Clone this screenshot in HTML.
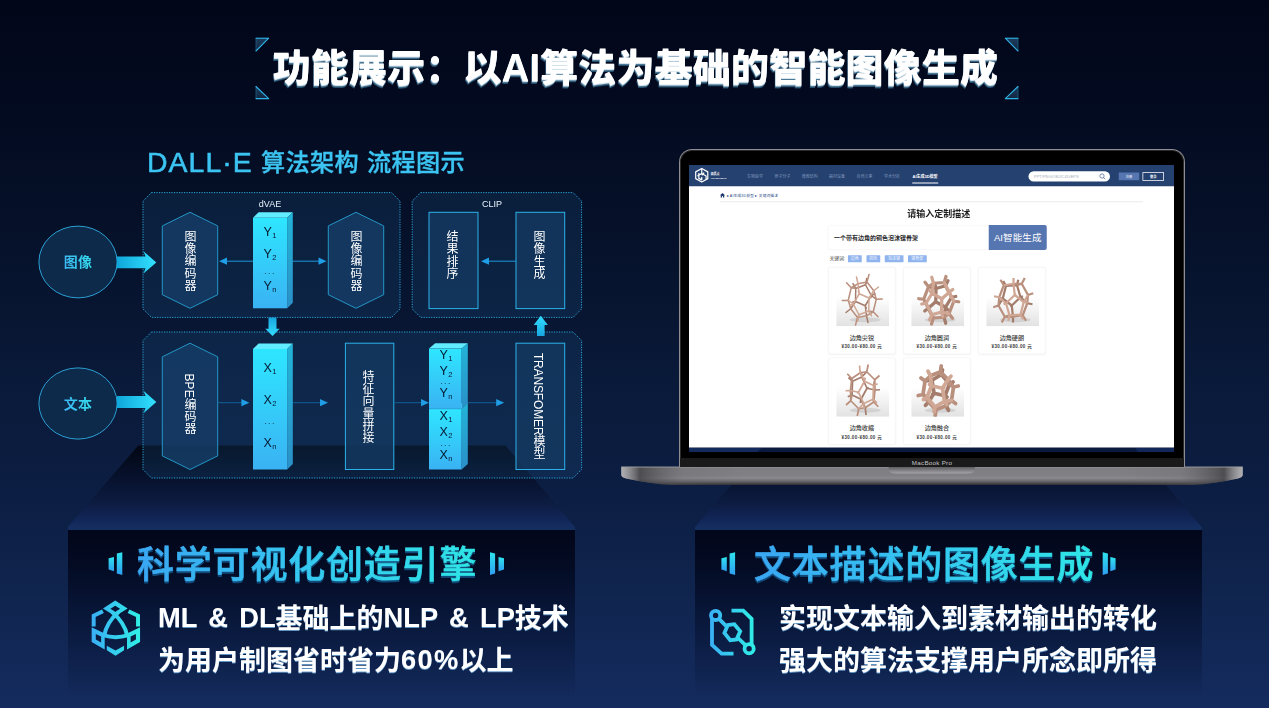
<!DOCTYPE html>
<html lang="zh-CN">
<head>
<meta charset="utf-8">
<title>功能展示：以AI算法为基础的智能图像生成</title>
<style>
*{margin:0;padding:0;box-sizing:border-box}
html,body{width:1269px;height:708px;overflow:hidden}
body{position:relative;font-family:"Liberation Sans","Noto Sans CJK SC",sans-serif;background:linear-gradient(180deg,#020619 0%,#030a1f 14%,#06122b 35%,#0a1a3a 55%,#0c1e43 70%,#10254f 85%,#142b5e 100%);color:#fff}
.abs{position:absolute}
.title,.sub,.h2,.body,.vt,.lab,.yx,.dots,.el{will-change:transform}
#shapes{position:absolute;left:0;top:0;width:1269px;height:708px}
.title{position:absolute;left:0;top:40px;width:1269px;text-align:center;font-family:"Liberation Sans","Noto Sans CJK SC",sans-serif;font-weight:900;font-size:38px;line-height:56px;letter-spacing:0.18px;color:#fff;white-space:nowrap;text-shadow:0 1px 0 #d4e2ec,-0.5px 1.8px 0 #4d7a98,-0.6px 2.6px 0 #264d69;padding-left:2px}
.sub{position:absolute;top:145px;-webkit-text-stroke:0.35px #3cc4f2;font-size:24.2px;line-height:36px;font-weight:500;color:#3cc4f2;white-space:nowrap;letter-spacing:0.35px}
.sub.lat{font-size:28.4px;letter-spacing:1.05px;-webkit-text-stroke:0.55px #3cc4f2;top:143.6px}
.box{position:absolute;top:529.5px;height:166px;background:linear-gradient(180deg,#02061a 0%,#030a21 18%,#081638 50%,rgba(14,32,74,.8) 80%,rgba(19,41,92,0) 100%)}
.box:before{content:"";position:absolute;left:0;right:0;top:-2.6px;height:2.6px;background:#152e60}
.h2{position:absolute;font-size:37px;line-height:50px;font-weight:500;white-space:nowrap;letter-spacing:0.8px;background:linear-gradient(90deg,#3aa6f2 0%,#35c8f0 50%,#2fe6e6 100%);-webkit-background-clip:text;background-clip:text;color:transparent;-webkit-text-stroke:0.7px transparent;filter:drop-shadow(0 2px 0.6px rgba(22,95,150,.75))}
.body{position:absolute;font-size:27px;line-height:42px;font-weight:700;color:#fff;white-space:nowrap;text-shadow:0 1px 0.6px rgba(120,185,238,.75)}
.body .l{font-size:27.3px;line-height:30px;position:relative;top:-0.8px}

.vt{position:absolute;writing-mode:vertical-rl;text-orientation:mixed;font-size:12px;line-height:14px;width:14px;color:#fff;white-space:nowrap;letter-spacing:0.2px;transform:translate(-50%,-50%)}
.lab{position:absolute;font-size:9px;line-height:10px;color:#e8f2fa;transform:translate(-50%,-50%);white-space:nowrap}
.el{position:absolute;font-size:14px;line-height:16px;font-weight:700;transform:translate(-50%,-50%);white-space:nowrap;letter-spacing:0.3px;background:linear-gradient(90deg,#3cb8f4,#34e0ee);-webkit-background-clip:text;background-clip:text;color:transparent}
.yx{position:absolute;font-size:12.5px;line-height:14px;color:#071a33;transform:translate(-50%,-50%);white-space:nowrap}
.yx sub{font-size:7.6px;vertical-align:baseline;position:relative;top:1.5px;margin-left:0.3px}
.dots{position:absolute;font-size:7px;line-height:8px;color:#071a33;transform:translate(-50%,-50%);letter-spacing:1.5px;white-space:nowrap}

.lid{position:absolute;left:678.9px;top:148.8px;width:506.2px;height:318px;background:#000;border-radius:13px 13px 0 0;border:1.3px solid #8e8e92;border-bottom:none;box-shadow:inset 0 0 0 1px #2a2a2c}
.chin{position:absolute;left:680.3px;top:458.3px;width:503.4px;height:8.5px;background:#1a1a1b}
.mbp{position:absolute;left:931.5px;top:462.6px;transform:translate(-50%,-50%) scale(.25);font-size:25px;line-height:28px;color:#c4c4c8;white-space:nowrap;letter-spacing:1px}
.screenwrap{position:absolute;left:688.8px;top:165.2px;width:485.3px;height:286.8px;overflow:hidden;background:#0a1a3e}
.screen{position:absolute;left:0;top:0;width:1942px;height:1130px;background:#fff;transform:scale(.25);transform-origin:0 0;color:#222;font-family:"Liberation Sans","Noto Sans CJK SC",sans-serif}
.screen div{position:absolute;white-space:nowrap}
.nav{left:0;top:0;width:1942px;height:85px;background:#24416f}
.ni{top:28px;font-size:16px;line-height:34px;color:#7f95bb}
.card{width:269px;height:347px;background:#fff;border:2px solid #f0f0f2;border-radius:10px;box-shadow:0 2px 8px rgba(0,0,0,.05)}
.card svg{position:absolute;left:30px;top:16px;width:212px;height:218px}
.cn{left:0;width:265px;top:261px;text-align:center;font-size:24.5px;line-height:36px;font-weight:500;color:#3a3a3a}
.cp{left:0;width:265px;top:303px;text-align:center;font-size:18px;line-height:24px;color:#3a3a3a;font-weight:700;letter-spacing:1.6px}
.tag{top:361px;height:28px;background:#8fb3ee;color:#eef4ff;font-size:16px;line-height:28px;text-align:center;border-radius:2px}
</style>
</head>
<body>
<svg id="shapes" viewBox="0 0 1269 708">
<defs>
<linearGradient id="plat" x1="0" y1="0" x2="0" y2="1"><stop offset="0" stop-color="#020712"/><stop offset="0.35" stop-color="#06102a"/><stop offset="0.7" stop-color="#0c1b40"/><stop offset="0.93" stop-color="#12275a"/><stop offset="1" stop-color="#152e60"/></linearGradient>
<linearGradient id="tri" x1="0" y1="0" x2="0" y2="1"><stop offset="0" stop-color="#1d3d5e"/><stop offset="1" stop-color="#12263f"/></linearGradient>

<linearGradient id="bar" x1="0" y1="0" x2="0" y2="1"><stop offset="0" stop-color="#2ee6ff"/><stop offset="1" stop-color="#3ab2f3"/></linearGradient>
<linearGradient id="barside" x1="0" y1="0" x2="0" y2="1"><stop offset="0" stop-color="#23b4d8"/><stop offset="1" stop-color="#2a90c8"/></linearGradient>
<linearGradient id="arr" x1="0" y1="0" x2="1" y2="0"><stop offset="0" stop-color="#0fa6da"/><stop offset="1" stop-color="#33e2ff"/></linearGradient>
<linearGradient id="arrv" x1="0" y1="0" x2="0" y2="1"><stop offset="0" stop-color="#18a6e0"/><stop offset="1" stop-color="#33deff"/></linearGradient>
<linearGradient id="arrv2" x1="0" y1="1" x2="0" y2="0"><stop offset="0" stop-color="#18a6e0"/><stop offset="1" stop-color="#33deff"/></linearGradient>
<linearGradient id="floor" x1="0" y1="0" x2="0" y2="1"><stop offset="0" stop-color="#fff"/><stop offset="0.5" stop-color="#f1f1f1"/><stop offset="1" stop-color="#e2e2e2"/></linearGradient>
<linearGradient id="base" x1="0" y1="0" x2="0" y2="1"><stop offset="0" stop-color="#7d7d82"/><stop offset="0.5" stop-color="#808085"/><stop offset="0.62" stop-color="#8a8a8f"/><stop offset="0.8" stop-color="#66666b"/><stop offset="1" stop-color="#2e2e32"/></linearGradient>
<linearGradient id="baseh" x1="0" y1="0" x2="1" y2="0"><stop offset="0" stop-color="#c8c8cc" stop-opacity=".7"/><stop offset="0.006" stop-color="#b8b8bc" stop-opacity=".6"/><stop offset="0.03" stop-color="#3c3c40" stop-opacity=".75"/><stop offset="0.1" stop-color="#606065" stop-opacity="0.2"/><stop offset="0.2" stop-color="#606065" stop-opacity="0"/><stop offset="0.8" stop-color="#606065" stop-opacity="0"/><stop offset="0.9" stop-color="#606065" stop-opacity="0.2"/><stop offset="0.97" stop-color="#3c3c40" stop-opacity=".75"/><stop offset="0.994" stop-color="#b8b8bc" stop-opacity=".6"/><stop offset="1" stop-color="#c8c8cc" stop-opacity=".7"/></linearGradient>
<linearGradient id="notch" x1="0" y1="0" x2="0" y2="1"><stop offset="0" stop-color="#5a5a5f"/><stop offset="1" stop-color="#a2a2a7"/></linearGradient>
</defs>
<!-- platforms -->
<polygon points="138.3,445.5 505.5,445.5 575,527 67.7,527" fill="url(#plat)"/>
<polygon points="765.6,445.5 1132.2,445.5 1201.7,527 695,527" fill="url(#plat)"/>
<!-- diagram -->
<g fill="rgba(28,78,122,0.26)" stroke="#2ba6d9" stroke-width="1" stroke-dasharray="1.2 1.3">
<path d="M151.5,192.6 H391.5 L400,201.1 V308.9 L391.5,317.4 H151.5 L143,308.9 V201.1 Z"/>
<path d="M420.7,192.6 H573.1 L581.6,201.1 V308.9 L573.1,317.4 H420.7 L412.2,308.9 V201.1 Z"/>
<path d="M151.5,332 H573.1 L581.6,340.5 V469.5 L573.1,478 H151.5 L143,469.5 V340.5 Z"/>
</g>
<g fill="rgba(22,62,104,0.78)" stroke="#2396c6" stroke-width="1">
<polygon points="190,212.3 217.7,225.9 217.7,294.7 190,308.3 162.3,294.7 162.3,225.9"/>
<polygon points="356,212.3 383.7,225.9 383.7,294.7 356,308.3 328.3,294.7 328.3,225.9"/>
<polygon points="190,343.2 217.7,356.8 217.7,455.9 190,469.5 162.3,455.9 162.3,356.8"/>
</g>
<g fill="rgba(20,58,98,0.80)" stroke="#2cb2ea" stroke-width="1">
<rect x="429" y="212.3" width="49.0" height="96.3"/>
<rect x="516" y="212.3" width="48.7" height="96.3"/>
<rect x="345.4" y="343.2" width="48.4" height="126.3"/>
<rect x="516" y="343.2" width="48.7" height="126.3"/>
</g>
<g fill="#0e2a4b" stroke="#2a9fd2" stroke-width="1"><ellipse cx="78" cy="262" rx="39.1" ry="35.9"/><ellipse cx="78" cy="403.5" rx="39.1" ry="35.6"/></g>
<polygon points="117,256.5 145.5,256.5 143.5,251.2 156.3,262.4 143.5,273.59999999999997 145.5,268.29999999999995 117,268.29999999999995" fill="url(#arr)"/>
<polygon points="117,396.1 145.5,396.1 143.5,390.8 156.3,402 143.5,413.2 145.5,407.9 117,407.9" fill="url(#arr)"/>
<line x1="253" y1="261.2" x2="226" y2="261.2" stroke="#1e97dc" stroke-width="1"/><polygon points="219,261.2 227,257.59999999999997 227,264.8" fill="#1f9ee6"/>
<line x1="292.7" y1="261.2" x2="319.5" y2="261.2" stroke="#1e97dc" stroke-width="1"/><polygon points="326.5,261.2 318.5,257.59999999999997 318.5,264.8" fill="#1f9ee6"/>
<line x1="516" y1="261.2" x2="488" y2="261.2" stroke="#1e97dc" stroke-width="1"/><polygon points="481,261.2 489,257.59999999999997 489,264.8" fill="#1f9ee6"/>
<line x1="217.8" y1="402.7" x2="242.4" y2="402.7" stroke="#135f97" stroke-width="1"/><polygon points="249.4,402.7 241.4,399.09999999999997 241.4,406.3" fill="#1f9ee6"/>
<line x1="292.7" y1="402.7" x2="321" y2="402.7" stroke="#135f97" stroke-width="1"/><polygon points="328,402.7 320,399.09999999999997 320,406.3" fill="#1f9ee6"/>
<line x1="393.8" y1="402.7" x2="422" y2="402.7" stroke="#135f97" stroke-width="1"/><polygon points="429,402.7 421,399.09999999999997 421,406.3" fill="#1f9ee6"/>
<line x1="467.7" y1="402.7" x2="497.2" y2="402.7" stroke="#135f97" stroke-width="1"/><polygon points="504.2,402.7 496.2,399.09999999999997 496.2,406.3" fill="#1f9ee6"/>
<polygon points="253,217.8 258.6,212.3 292.8,212.3 287.2,217.8" fill="#62ecff"/><polygon points="287.2,217.8 292.8,212.3 292.8,302.8 287.2,308.3" fill="url(#barside)"/><rect x="253" y="217.8" width="34.19999999999999" height="90.5" fill="url(#bar)"/>
<polygon points="253,348.9 258.6,343.4 292.8,343.4 287.2,348.9" fill="#62ecff"/><polygon points="287.2,348.9 292.8,343.4 292.8,464.0 287.2,469.5" fill="url(#barside)"/><rect x="253" y="348.9" width="34.19999999999999" height="120.60000000000002" fill="url(#bar)"/>
<polygon points="429,408.7 435.2,403.3 467.8,403.3 461.6,408.7" fill="#62ecff"/><polygon points="461.6,408.7 467.8,403.3 467.8,464.1 461.6,469.5" fill="url(#barside)"/><rect x="429" y="408.7" width="32.60000000000002" height="60.79999999999999" fill="url(#bar)"/>
<polygon points="429,348.59999999999997 435.2,343.2 467.8,343.2 461.6,348.59999999999997" fill="#62ecff"/><polygon points="461.6,348.59999999999997 467.8,343.2 467.8,403.40000000000003 461.6,408.8" fill="url(#barside)"/><rect x="429" y="348.59999999999997" width="32.60000000000002" height="60.200000000000024" fill="url(#bar)"/>
<line x1="429" y1="408.8" x2="461.6" y2="408.8" stroke="#2a9ad6" stroke-width="0.8"/>
<polygon points="268.5,317.4 276.5,317.4 276.5,328.8 279.7,328.8 272.5,336 265.3,328.8 268.5,328.8" fill="url(#arrv)"/>
<polygon points="537,336 544.6,336 544.6,325 547.9,325 540.8,315.8 533.7,325 537,325" fill="url(#arrv2)"/>
<!-- laptop base -->
<path d="M621.3,466.7 H1242.7 V475 Q1242.7,477.4 1238,478.4 Q1214,483.6 1192,485 H672 Q650,483.6 626,478.4 Q621.3,477.4 621.3,475 Z" fill="url(#base)"/>
<path d="M621.3,466.7 H1242.7 V475 Q1242.7,477.4 1238,478.4 Q1214,483.6 1192,485 H672 Q650,483.6 626,478.4 Q621.3,477.4 621.3,475 Z" fill="url(#baseh)"/>
<rect x="621.3" y="466.7" width="621.4" height="0.8" fill="#98989d"/>
<path d="M888.6,466.7 H974.9 V468.5 Q974.9,473.5 968,473.5 H895.5 Q888.6,473.5 888.6,468.5 Z" fill="url(#notch)"/>
<!-- title corner marks -->
<g fill="url(#tri)" stroke="#1c5f86" stroke-width="0.8" stroke-linejoin="round">
<polygon points="256,38.2 268.7,38.2 256,51"/>
<polygon points="256,86.5 256,98.6 268.7,98.6"/>
<polygon points="1005.3,38.2 1018,38.2 1018,51"/>
<polygon points="1018,86.5 1018,98.6 1005.3,98.6"/>
</g>
<g fill="none" stroke="#2cb0e4" stroke-width="1.1" stroke-linejoin="round" stroke-linecap="round">
<polyline points="256,51 268.7,38.2 256,38.2"/>
<polyline points="256,86.5 268.7,98.6 256,98.6"/>
<polyline points="1018,51 1005.3,38.2 1018,38.2"/>
<polyline points="1018,86.5 1005.3,98.6 1018,98.6"/>
</g>
</svg>

<div class="title">功能展示：以AI算法为基础的智能图像生成</div>
<div class="sub lat" style="left:147.2px">DALL·E</div><div class="sub" style="left:260.6px">算法架构</div><div class="sub" style="left:367.4px">流程图示</div>

<!-- diagram text -->
<div class="el" style="left:78px;top:262px">图像</div>
<div class="el" style="left:78px;top:403.5px">文本</div>
<div class="lab" style="left:269.5px;top:204.2px">dVAE</div>
<div class="lab" style="left:491.6px;top:204.2px">CLIP</div>
<div class="vt" style="left:188.8px;top:260.7px">图像编码器</div>
<div class="vt" style="left:354.8px;top:260.7px">图像编码器</div>
<div class="vt" style="left:451.3px;top:254.5px">结果排序</div>
<div class="vt" style="left:538.3px;top:254.5px">图像生成</div>
<div class="vt" style="left:188.8px;top:404px">BPE编码器</div>
<div class="vt" style="left:367.4px;top:406.7px">特征向量拼接</div>
<div class="vt" style="left:538.3px;top:406px;letter-spacing:-0.15px">TRANSFOMER模型</div>
<div class="yx" style="left:270px;top:233px">Y<sub>1</sub></div>
<div class="yx" style="left:270px;top:255px">Y<sub>2</sub></div>
<div class="dots" style="left:270px;top:273.5px">···</div>
<div class="yx" style="left:270px;top:287px">Y<sub>n</sub></div>
<div class="yx" style="left:270px;top:369px">X<sub>1</sub></div>
<div class="yx" style="left:270px;top:400.7px">X<sub>2</sub></div>
<div class="dots" style="left:270px;top:424px">···</div>
<div class="yx" style="left:270px;top:443.5px">X<sub>n</sub></div>
<div class="yx" style="left:445.5px;top:355.5px">Y<sub>1</sub></div>
<div class="yx" style="left:445.5px;top:371.5px">Y<sub>2</sub></div>
<div class="dots" style="left:445.5px;top:384px">···</div>
<div class="yx" style="left:445.5px;top:393.5px">Y<sub>n</sub></div>
<div class="yx" style="left:445.5px;top:417.2px">X<sub>1</sub></div>
<div class="yx" style="left:445.5px;top:433px">X<sub>2</sub></div>
<div class="dots" style="left:445.5px;top:446px">···</div>
<div class="yx" style="left:445.5px;top:456.4px">X<sub>n</sub></div>


<!-- laptop -->
<div class="lid"></div>
<div class="screenwrap"><div class="screen">
<div class="nav"></div>
<svg style="position:absolute;left:22px;top:9px;width:58px;height:64px" viewBox="0 0 60 62" fill="none" stroke="#fff" stroke-width="5" stroke-linejoin="round"><path d="M30 3 L55 17 V45 L30 59 L5 45 V17 Z"/><path d="M30 3 V24 L12 34 M30 24 L48 34 V48 M18 22 L18 44 L30 50 V38 M40 20 L30 31"/></svg>
<div style="left:86px;top:27px;font-size:12px;line-height:15px;color:#fff;font-weight:700">源质点</div>
<div style="left:86px;top:45px;font-size:10px;line-height:14px;color:#fff;font-weight:700">YUANPIXELS</div>
<div class="ni" style="left:232px">生物医学</div>
<div class="ni" style="left:342px">原子分子</div>
<div class="ni" style="left:451px">微观结构</div>
<div class="ni" style="left:560px">器材设备</div>
<div class="ni" style="left:670px">自然元素</div>
<div class="ni" style="left:780px">学术分析</div>
<div class="ni" style="left:894px;color:#fff;font-weight:700">AI生成3D模型</div>
<div style="left:893px;top:70px;width:104px;height:4px;background:#fff"></div>
<div style="left:1358px;top:25px;width:326px;height:41px;border-radius:21px;background:#fff"></div>
<div style="left:1380px;top:29px;font-size:16px;line-height:34px;color:#a8adb8">PPT/PNG/OBJ/C4D/EPS</div>
<svg style="position:absolute;left:1640px;top:32px;width:28px;height:28px" viewBox="0 0 28 28" fill="none" stroke="#3a5380" stroke-width="2.6"><circle cx="12" cy="12" r="8.5"/><path d="M18.5 18.5 L25 25"/></svg>
<div style="left:1719px;top:30px;width:82px;height:31px;background:#5676b1;color:#fff;font-size:13px;line-height:31px;text-align:center">注册</div>
<div style="left:1814px;top:29px;width:86px;height:34px;border:3px solid #fff;color:#fff;font-size:13px;line-height:28px;text-align:center;font-weight:700">登录</div>
<svg style="position:absolute;left:124px;top:112px;width:20px;height:19px" viewBox="0 0 20 19" fill="#1f3a70"><path d="M10 0 L20 9 H17 V19 H12 V12 H8 V19 H3 V9 H0 Z"/></svg>
<div style="left:150px;top:110px;font-size:14.5px;line-height:24px;color:#2a4a86;letter-spacing:.9px">▸ AI生成3D模型 ▸ 关键词描述</div>
<div style="left:124px;top:146px;width:1692px;height:3px;background:#e3e4e8"></div>
<div style="left:28px;top:168px;width:1942px;text-align:center;font-size:36px;line-height:52px;font-weight:700;color:#1d1d1f">请输入定制描述</div>
<div style="left:555px;top:240px;width:650px;height:100px;border:2px solid #eeeef0;border-radius:10px;background:#fff"></div>
<div style="left:580px;top:266px;font-size:24px;line-height:48px;font-weight:700;color:#2a2a2c">一个带有边角的铜色泡沫镍骨架</div>
<div style="left:1199px;top:240px;width:232px;height:100px;background:#5676b1;border-radius:0 8px 8px 0;color:#fff;font-size:38px;line-height:100px;text-align:center;letter-spacing:.5px">AI智能生成</div>
<div style="left:562px;top:361px;font-size:19px;line-height:28px;color:#333">关键词:</div>
<div class="tag" style="left:636px;width:55px">边角</div>
<div class="tag" style="left:710px;width:55px">铜色</div>
<div class="tag" style="left:783px;width:75px">泡沫镍</div>
<div class="tag" style="left:876px;width:75px">镍骨架</div>
<div class="card" style="left:557px;top:409px"><svg viewBox="0 0 212 218"><rect x="0" y="100" width="212" height="118" fill="url(#floor)"/><ellipse cx="116" cy="192" rx="62" ry="10" fill="#9a9a9a" opacity=".28"/><g fill="none" stroke-width="6" stroke-linecap="round" stroke-linejoin="round"><path stroke="#a47c6b" d="M116,136L120,146M77,119L66,121M116,136L77,119M140,95L155,88M116,136L140,95M78,67L67,48M78,67L77,119M117,52L122,27M116,136L121,176M117,52L140,95M58,148L77,119M117,52L78,67M121,176L127,203M58,148L39,163M160,110L140,95"/><path stroke="#b98f7d" d="M60,64L78,67M121,176L85,183M58,148L85,183M117,52L123,41M148,160L121,176M160,110L184,109M85,183L77,213M58,148L48,114M148,160L160,110M60,64L41,44M148,160L167,180M60,64L48,114M150,76L160,110M123,41L131,11M48,114L24,115M60,64L87,48M91,172L85,183M150,76L123,41M123,41L87,48M148,160L130,157"/><path stroke="#cfa794" d="M68,129L48,114M150,76L169,61M87,48L81,21M91,172L130,157M150,76L131,105M91,172L68,129M92,88L87,48M91,172L86,197M131,105L130,157M130,157L141,176M92,88L68,129M68,129L53,136M92,88L131,105M131,105L142,103M92,88L88,78"/></g></svg><div class="cn">边角尖锐</div><div class="cp">¥30.00-¥80.00 元</div></div>
<div class="card" style="left:857px;top:409px"><svg viewBox="0 0 212 218"><rect x="0" y="100" width="212" height="118" fill="url(#floor)"/><ellipse cx="116" cy="192" rx="62" ry="10" fill="#9a9a9a" opacity=".28"/><g fill="none" stroke-width="13" stroke-linecap="round" stroke-linejoin="round"><path stroke="#a47c6b" d="M98,120L94,122M137,142L146,152M99,67L95,50M137,142L98,120M99,67L98,120M68,146L98,120M68,146L54,157M137,142L161,102M137,56L99,67M161,102L178,99M137,142L131,182M137,56L147,36M69,60L99,67M137,56L161,102M131,182L138,206M68,146L88,185"/><path stroke="#b98f7d" d="M68,146L50,110M69,60L55,42M131,182L88,185M88,185L81,209M69,60L50,110M170,118L161,102M50,110L30,108M137,56L132,43M151,168L131,182M69,60L89,46M83,172L88,185M170,118L190,120M59,126L50,110M151,168L170,118M132,43L139,19M132,43L89,46M151,168L165,186"/><path stroke="#cfa794" d="M152,82L170,118M152,82L132,43M89,46L82,22M83,172L59,126M151,168L121,161M83,172L73,192M83,86L89,46M59,126L42,129M83,172L121,161M83,86L59,126M152,82L166,71M152,82L122,108M122,108L121,161M83,86L122,108M121,161L125,178M83,86L74,76M122,108L126,106"/></g></svg><div class="cn">边角圆润</div><div class="cp">¥30.00-¥80.00 元</div></div>
<div class="card" style="left:1157px;top:409px"><svg viewBox="0 0 212 218"><rect x="0" y="100" width="212" height="118" fill="url(#floor)"/><ellipse cx="116" cy="192" rx="62" ry="10" fill="#9a9a9a" opacity=".28"/><g fill="none" stroke-width="9" stroke-linecap="butt" stroke-linejoin="round"><path stroke="#a47c6b" d="M102,135L99,142M137,102L147,98M102,135L137,102M66,107L50,105M102,135L66,107M102,135L107,180M123,54L137,102M123,54L128,32M107,180L107,203M164,126L137,102M79,57L66,107M79,57L68,37M123,54L79,57M164,126L185,130M49,135L66,107"/><path stroke="#b98f7d" d="M146,174L107,180M146,174L164,126M107,180L74,180M123,54L142,48M146,174L159,196M49,135L28,142M70,54L79,57M167,93L164,126M49,135L74,180M74,180L62,203M142,48L154,25M167,93L142,48M49,135L52,102M146,174L137,171M167,93L188,86M70,54L57,32M93,174L74,180M142,48L109,48M70,54L52,102"/><path stroke="#cfa794" d="M70,54L109,48M167,93L150,121M52,102L31,98M93,174L137,171M137,171L148,191M150,121L137,171M79,126L52,102M109,48L109,25M93,174L88,196M93,174L79,126M114,93L109,48M114,93L150,121M150,121L166,123M114,93L79,126M79,126L69,130M114,93L117,86"/></g></svg><div class="cn">边角硬朗</div><div class="cp">¥30.00-¥80.00 元</div></div>
<div class="card" style="left:557px;top:771px"><svg viewBox="0 0 212 218"><rect x="0" y="100" width="212" height="118" fill="url(#floor)"/><ellipse cx="116" cy="192" rx="62" ry="10" fill="#9a9a9a" opacity=".28"/><g fill="none" stroke-width="7" stroke-linecap="butt" stroke-linejoin="round"><path stroke="#a47c6b" d="M123,104L130,101M99,148L96,163M99,148L123,104M102,59L101,38M102,59L123,104M99,148L63,131M63,131L46,138M155,111L123,104M99,148L116,182M65,76L49,61M102,59L65,76M155,111L175,110M65,76L63,131M116,182L119,211M102,59L122,38"/><path stroke="#b98f7d" d="M150,159L155,111M58,154L63,131M150,159L116,182M154,70L155,111M150,159L168,178M122,38L128,9M62,65L65,76M116,182L90,186M154,70L122,38M154,70L173,53M58,154L39,171M58,154L90,186M122,38L96,42M150,159L147,148M90,186L84,215M62,65L44,46M58,154L57,113M62,65L96,42M154,70L149,93M62,65L57,113"/><path stroke="#cfa794" d="M110,165L90,186M96,42L93,13M149,93L147,148M57,113L37,114M110,165L147,148M147,148L163,163M113,76L96,42M89,120L57,113M149,93L166,86M113,76L149,93M110,165L89,120M110,165L111,186M113,76L89,120M113,76L116,61M89,120L82,123"/></g></svg><div class="cn">边角收缩</div><div class="cp">¥30.00-¥80.00 元</div></div>
<div class="card" style="left:857px;top:771px"><svg viewBox="0 0 212 218"><rect x="0" y="100" width="212" height="118" fill="url(#floor)"/><ellipse cx="116" cy="192" rx="62" ry="10" fill="#9a9a9a" opacity=".28"/><g fill="none" stroke-width="15" stroke-linecap="round" stroke-linejoin="round"><path stroke="#a47c6b" d="M91,124L86,127M135,134L143,139M135,134L91,124M83,72L75,60M83,72L91,124M69,159L91,124M135,134L153,87M153,87L167,79M121,49L83,72M135,134L139,174M69,159L57,172M121,49L125,30M121,49L153,87M55,75L83,72M139,174L149,192"/><path stroke="#b98f7d" d="M69,159L99,190M69,159L47,129M139,174L99,190M169,99L153,87M55,75L39,63M99,190L96,213M121,49L117,38M55,75L47,129M161,153L139,174M47,129L28,133M169,99L188,95M55,75L77,54M161,153L169,99M95,179L99,190M117,38L120,15M161,153L177,165M63,141L47,129M117,38L77,54M147,69L169,99M147,69L117,38"/><path stroke="#cfa794" d="M77,54L67,36M161,153L133,156M95,179L63,141M95,179L91,198M147,69L159,56M81,94L77,54M95,179L133,156M63,141L49,149M81,94L63,141M147,69L125,104M125,104L133,156M133,156L141,168M81,94L125,104M81,94L73,89M125,104L130,101"/></g></svg><div class="cn">边角融合</div><div class="cp">¥30.00-¥80.00 元</div></div>
</div>
<div style="position:absolute;left:0;top:282.5px;width:73px;height:4.5px;background:#122a5c;clip-path:polygon(0 0,100% 0,94% 100%,0 100%)"></div>
<div style="position:absolute;left:446px;top:282.5px;width:40px;height:4.5px;background:#11275a;clip-path:polygon(0 0,100% 0,100% 100%,8% 100%)"></div>
</div>
<div class="chin"></div>
<div class="mbp">MacBook Pro</div>

<div class="box" style="left:67.7px;width:507.3px"></div>
<div class="box" style="left:695px;width:506.7px"></div>

<svg class="abs" style="left:0;top:0;width:1269px;height:708px" viewBox="0 0 1269 708">
<!-- heading decorations -->
<defs>
<linearGradient id="dg" x1="0" y1="0" x2="0" y2="1"><stop offset="0" stop-color="#2fe4ee"/><stop offset="1" stop-color="#2e9ff2"/></linearGradient>
<linearGradient id="ig1z" gradientUnits="userSpaceOnUse" x1="100" y1="0" x2="640" y2="0"><stop offset="0" stop-color="#3aaef5"/><stop offset="1" stop-color="#30f0e6"/></linearGradient>
<linearGradient id="ig1" gradientUnits="userSpaceOnUse" x1="91" y1="0" x2="141" y2="0"><stop offset="0" stop-color="#3aaef5"/><stop offset="1" stop-color="#30f0e6"/></linearGradient>
<linearGradient id="ig2" gradientUnits="userSpaceOnUse" x1="709" y1="0" x2="756" y2="0"><stop offset="0" stop-color="#3aaef5"/><stop offset="1" stop-color="#30f0e6"/></linearGradient>
</defs>
<g fill="url(#dg)">
<polygon points="108.6,558.2 114,556.9 114,571.2 108.6,569.4"/>
<polygon points="116.8,553.6 122.3,552.2 122.3,575 116.8,573.6"/>
<polygon points="504,558.2 498.5,556.9 498.5,571.2 504,569.4"/>
<polygon points="495.1,553.6 490,552.2 490,575 495.1,573.6"/>
<polygon points="721.4,558.2 726.8,556.9 726.8,571.2 721.4,569.4"/>
<polygon points="729.6,553.6 735.1,552.2 735.1,575 729.6,573.6"/>
<polygon points="1115.6,558.2 1110.3,556.9 1110.3,571.2 1115.6,569.4"/>
<polygon points="1107.9,553.6 1102.7,552.2 1102.7,575 1107.9,573.6"/>
</g>
<!-- left icon -->
<g transform="translate(82,595) scale(0.09186)">
<g fill="url(#ig1z)" fill-rule="evenodd">
<path d="M362,60 L497,148 L362,230 L228,148 Z M362,116 L414,150 L362,184 L310,150 Z"/>
<path d="M105,352 L247,420 L247,592 L105,512 Z M150,424 L208,453 L208,517 L150,484 Z"/>
<path d="M632,352 L490,420 L490,592 L632,512 Z M587,424 L529,453 L529,517 L587,484 Z"/>
<path d="M270,553 L365,604 L458,553 L458,602 L365,662 L270,602 Z"/>
</g>
<g fill="none" stroke="url(#ig1z)" stroke-width="43" stroke-linejoin="miter">
<path d="M228,176 L127,226 V342"/>
<path d="M506,176 L610,226 V342"/>
<path d="M398,186 Q265,300 240,450"/>
<path d="M326,186 Q465,300 494,450"/>
<path d="M236,440 Q365,478 498,440"/>
</g>
</g>
<!-- right icon -->
<g fill="none" stroke="url(#ig2)" stroke-width="3.8" stroke-linejoin="miter">
<circle cx="715.6" cy="615.4" r="4.6"/>
<circle cx="749.1" cy="648.7" r="4.6"/>
<path d="M712,619 V645 L721.6,653.7 H733.5"/>
<path d="M731.5,610.6 H743.2 L751.6,618.8 V644.5"/>
<path d="M719,618.8 L726.5,626.3 M738,638 L745.7,645.4"/>
<polygon points="734.3,624.2 740.2,631.4 736.6,639.4 730.2,640.2 724.4,633 727.9,625"/>
</g>
</svg>
<div class="h2" style="left:137px;top:541px">科学可视化创造引擎</div>
<div class="h2" style="left:753.5px;top:541px">文本描述的图像生成</div>

<div class="body" style="left:157.5px;top:597.8px;word-spacing:3.7px"><span class="l">ML &amp; DL</span>基础上的<span class="l">NLP &amp; LP</span>技术<br>为用户制图省时省力<span class="l" style="letter-spacing:1.3px">60%</span>以上</div>
<div class="body" style="left:779px;top:597.8px">实现文本输入到素材输出的转化<br>强大的算法支撑用户所念即所得</div>
</body>
</html>
